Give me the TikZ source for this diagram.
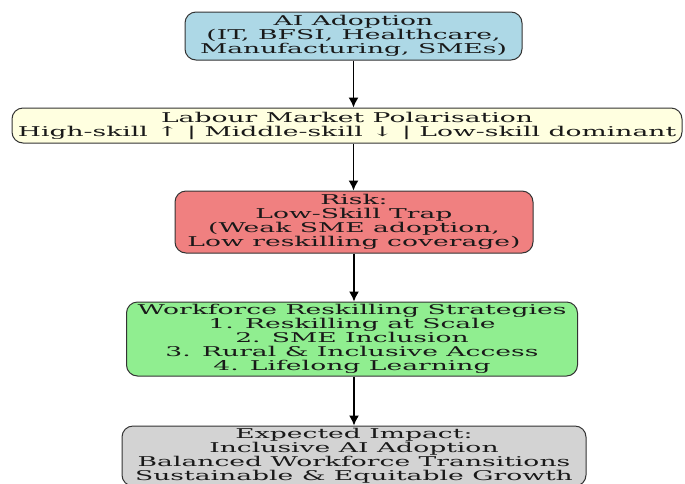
\documentclass[tikz,border=0pt]{standalone}
\usepackage{fontspec}
\usepackage{tikz}
\usetikzlibrary{arrows.meta}

\newfontfamily\boxfont[FakeStretch=1.97]{DejaVu Serif}
\definecolor{boxblue}{HTML}{ADD8E6}
\definecolor{boxyellow}{HTML}{FFFFE0}
\definecolor{boxred}{HTML}{F08080}
\definecolor{boxgreen}{HTML}{90EE90}
\definecolor{boxgray}{HTML}{D3D3D3}

\tikzset{
  stage/.style={draw=black!80, line width=1pt, rounded corners=11pt, align=center,
    inner sep=0pt, text=black!90, font=\boxfont\fontsize{13.5pt}{14pt}\selectfont},
  flow/.style={-{Latex[length=10pt,width=10pt]}, line width=1.4pt}
}

\begin{document}
\begin{tikzpicture}[x=1pt, y=1pt]
\useasboundingbox (0,0) rectangle (685,-483);

% Draw the stages.
\node[stage, fill=boxblue, minimum width=337pt, minimum height=48pt] (ai) at (353.5,-36)
  {AI Adoption\\(IT, BFSI, Healthcare,\\Manufacturing, SMEs)};
\node[stage, fill=boxyellow, minimum width=670pt, minimum height=35pt] (polar) at (347,-125.5)
  {Labour Market Polarisation\\High-skill ↑ | Middle-skill ↓ | Low-skill dominant};
\node[stage, fill=boxred, minimum width=358pt, minimum height=62pt] (risk) at (354,-222)
  {Risk:\\Low-Skill Trap\\(Weak SME adoption,\\Low reskilling coverage)};
\node[stage, fill=boxgreen, minimum width=451pt, minimum height=74pt] (strat) at (352,-339)
  {Workforce Reskilling Strategies\\1. Reskilling at Scale\\2. SME Inclusion\\3. Rural \& Inclusive Access\\4. Lifelong Learning};
\node[stage, fill=boxgray, minimum width=464pt, minimum height=60pt] (impact) at (354,-456)
  {Expected Impact:\\Inclusive AI Adoption\\Balanced Workforce Transitions\\Sustainable \& Equitable Growth};

% Draw the flow.
\draw[flow] (ai.south) -- (ai.south |- polar.north);
\draw[flow] (ai.south |- polar.south) -- (ai.south |- risk.north);
\draw[flow] (risk.south) -- (risk.south |- strat.north);
\draw[flow] (risk.south |- strat.south) -- (risk.south |- impact.north);

\end{tikzpicture}
\end{document}
